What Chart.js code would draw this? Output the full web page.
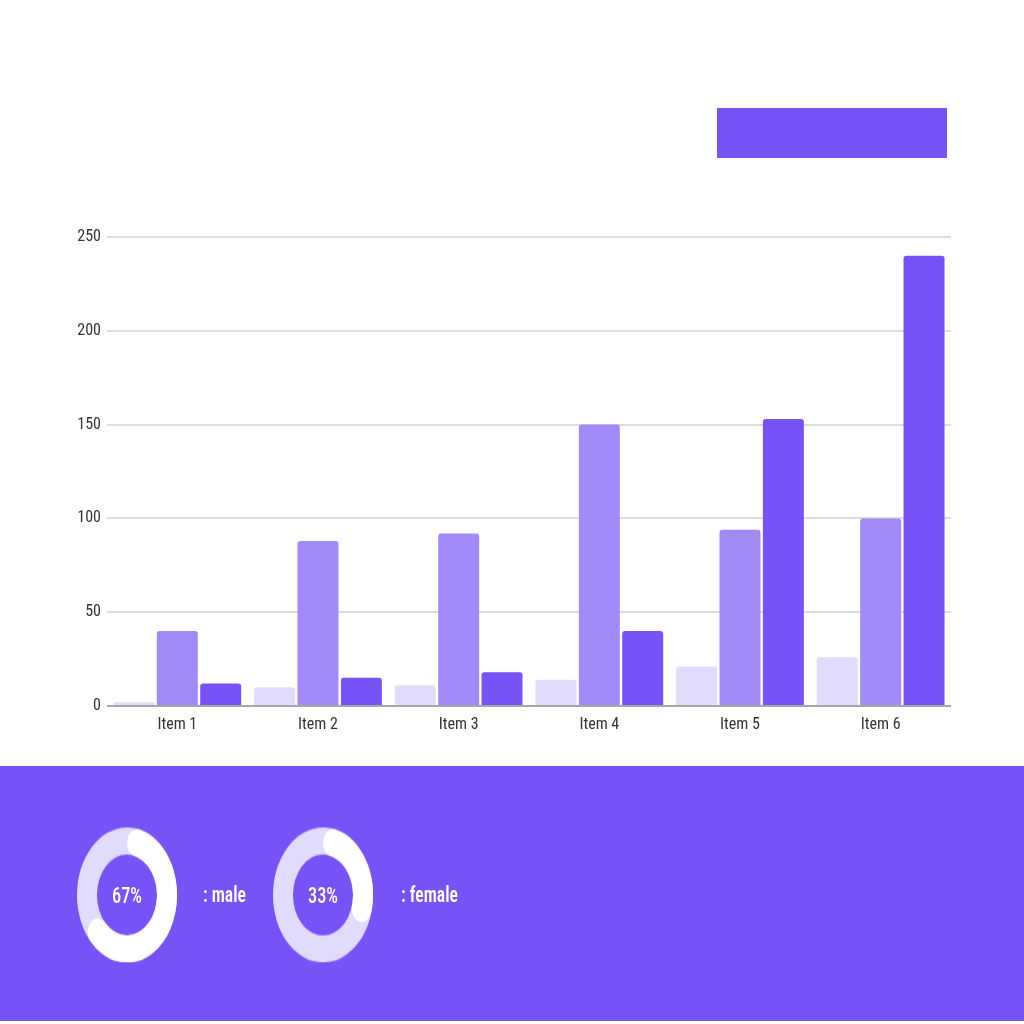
<!DOCTYPE html>
<html>
<head>
<meta charset="utf-8">
<script src="https://cdn.jsdelivr.net/npm/chart.js@4.4.1/dist/chart.umd.min.js"></script>
<style>
  html, body { margin: 0; padding: 0; background: #fff; }
  body { width: 1024px; height: 1024px; position: relative; overflow: hidden;
         font-family: 'Liberation Sans Narrow', 'Roboto Condensed', Roboto, sans-serif; }
  .block { position: absolute; background: #7752F7; }
  #barBox { position: absolute; left: 0; top: 200px; width: 1024px; height: 560px; }
  .donut { position: absolute; width: 100px; height: 100px; transform: scaleY(1.35); }
  .donut canvas { position: absolute; left: 0; top: 0; }
  .pct { position: absolute; width: 100px; text-align: center; color: #fff;
         font-size: 20px; font-weight: 500; line-height: 30px; transform: scale(0.92, 1.1); }
  .lbl { position: absolute; color: #fff; font-size: 21px; font-weight: 600; line-height: 30px;
         transform-origin: left center; transform: scale(0.84, 1.05); }
</style>
</head>
<body>
<div class="block" style="left:717px; top:108px; width:230px; height:50px;"></div>
<div id="barBox"><canvas id="barChart"></canvas></div>
<div class="block" style="left:0; top:766px; width:1024px; height:255px;"></div>

<div class="donut" style="left:77px; top:845px;">
  <canvas id="maleTrack"></canvas>
  <canvas id="maleArc"></canvas>
</div>
<div class="pct" id="malePct" style="left:77px; top:880px;"></div>
<div class="lbl" id="maleLbl" style="left:203px; top:880px;"></div>

<div class="donut" style="left:273px; top:845px;">
  <canvas id="femaleTrack"></canvas>
  <canvas id="femaleArc"></canvas>
</div>
<div class="pct" id="femalePct" style="left:273px; top:880px;"></div>
<div class="lbl" id="femaleLbl" style="left:401px; top:880px;"></div>

<script>
const categories = ['Item 1', 'Item 2', 'Item 3', 'Item 4', 'Item 5', 'Item 6'];
const seriesA = [2, 10, 11, 14, 21, 26];
const seriesB = [40, 88, 92, 150, 94, 100];
const seriesC = [12, 15, 18, 40, 153, 240];
const yTicks = [0, 50, 100, 150, 200, 250];

const genderLabels = ['male', 'female'];
const genderShares = [67, 33];

const LIGHT = '#E1DBFE';
const MID = '#A28BF8';
const DARK = '#7752F7';
const FONT = "'Liberation Sans Narrow', 'Roboto Condensed', Roboto, sans-serif";

new Chart(document.getElementById('barChart'), {
    type: 'bar',
    data: {
        labels: categories,
        datasets: [
            { data: seriesA, backgroundColor: LIGHT },
            { data: seriesB, backgroundColor: MID },
            { data: seriesC, backgroundColor: DARK }
        ]
    },
    options: {
        responsive: true,
        maintainAspectRatio: false,
        animation: false,
        layout: { padding: { left: 0, right: 73, top: 37, bottom: 0 } },
        datasets: {
            bar: {
                categoryPercentage: 0.925,
                barPercentage: 0.945,
                borderRadius: { topLeft: 3, topRight: 3 },
                borderSkipped: 'bottom'
            }
        },
        plugins: { legend: { display: false }, tooltip: { enabled: false } },
        scales: {
            x: {
                grid: { display: false, drawTicks: false },
                border: { display: false },
                ticks: { color: '#333', padding: 9, font: { family: FONT, size: 16 } },
                afterFit: function(scale) { scale.height = 54; }
            },
            y: {
                min: 0,
                max: yTicks[yTicks.length - 1],
                afterBuildTicks: function(scale) { scale.ticks = yTicks.map(v => ({ value: v })); },
                grid: {
                    drawTicks: false,
                    lineWidth: 2,
                    color: ctx => ctx.tick && ctx.tick.value === 0 ? '#a6a6a6' : '#dcdcdc'
                },
                border: { display: false },
                ticks: { color: '#333', padding: 6, font: { family: FONT, size: 16 } },
                afterFit: function(scale) { scale.width = 107; }
            }
        }
    }
});

function makeDonut(trackId, arcId, share) {
    const common = {
        responsive: true,
        maintainAspectRatio: false,
        animation: false,
        cutout: '60%',
        plugins: { legend: { display: false }, tooltip: { enabled: false } },
        events: []
    };
    new Chart(document.getElementById(trackId), {
        type: 'doughnut',
        data: { datasets: [{ data: [100], backgroundColor: LIGHT, borderWidth: 0 }] },
        options: common
    });
    new Chart(document.getElementById(arcId), {
        type: 'doughnut',
        data: {
            datasets: [{
                data: [share, 100 - share],
                backgroundColor: ['#ffffff', 'rgba(0,0,0,0)'],
                borderWidth: 0,
                borderRadius: ctx => ctx.dataIndex === 0 ? 12 : 0
            }]
        },
        options: common
    });
}

makeDonut('maleTrack', 'maleArc', genderShares[0]);
makeDonut('femaleTrack', 'femaleArc', genderShares[1]);

document.getElementById('malePct').textContent = genderShares[0] + '%';
document.getElementById('femalePct').textContent = genderShares[1] + '%';
document.getElementById('maleLbl').textContent = ': ' + genderLabels[0];
document.getElementById('femaleLbl').textContent = ': ' + genderLabels[1];
</script>
</body>
</html>
